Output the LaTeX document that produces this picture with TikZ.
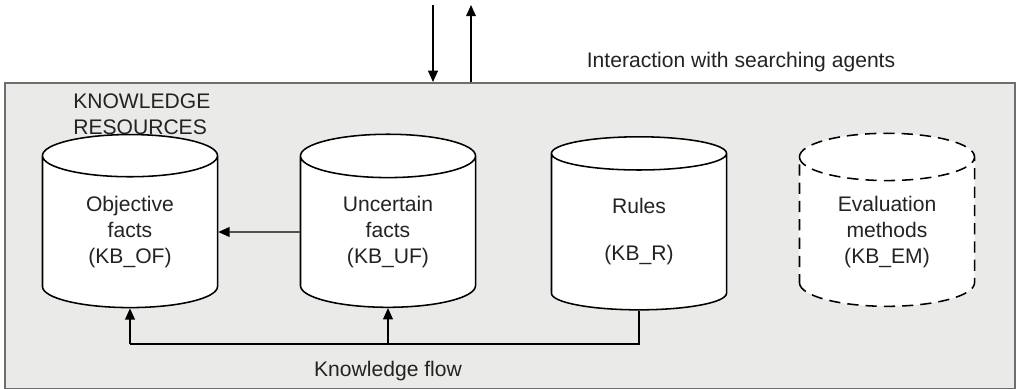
\documentclass[tikz,border=0pt]{standalone}
\usepackage{fontspec}
\setmainfont{Liberation Sans}
\usetikzlibrary{arrows.meta,positioning,shapes.geometric}

\definecolor{boxgray}{RGB}{234,235,232}
\definecolor{edgegray}{RGB}{110,110,110}
\definecolor{inkgray}{RGB}{35,35,35}

\tikzset{
  kbase/.style={cylinder, shape border rotate=90, draw=black, line width=1.1pt,
    fill=white, minimum width=4.375cm, minimum height=4.325cm, aspect=0.48,
    align=center, inner sep=0pt, text=inkgray},
  planned/.style={kbase, dash pattern=on 8pt off 5pt},
  kbox/.style={draw=edgegray, line width=1.4pt, fill=boxgray, minimum width=25.25cm,
    minimum height=7.65cm, inner sep=0pt},
  flow/.style={line width=0.9pt, -{Triangle[width=7pt,length=8pt]}},
  label/.style={text=inkgray, inner sep=0pt}
}

\begin{document}
\begin{tikzpicture}[x=0.025cm, y=-0.025cm,
    font=\fontsize{15}{18.4}\selectfont]
    \useasboundingbox (0,0) rectangle (1017,388);

    % knowledge base frame
    \node[kbox] (kb) at (510,236) {};
    \node[label, align=left, anchor=west] (res) at (73,114) {KNOWLEDGE\\RESOURCES};

    % interaction with the agents
    \coordinate (agentin) at (433,5);
    \coordinate (agentout) at (471,5);
    \draw[flow] (agentin) -- (agentin |- kb.north);
    \draw[flow] (agentout |- kb.north) -- (agentout);
    \node[label] (agents) at (741,62) {Interaction with searching agents};

    % the four bases
    \node[kbase] (of) at (130,232) {Objective\\facts\\(KB\_OF)};
    \node[kbase] (uf) at (388,232) {Uncertain\\facts\\(KB\_UF)};
    \node[kbase] (r) at (639,232) {\\[-8pt]Rules\\[15pt](KB\_R)};
    \node[planned] (em) at (887,232) {Evaluation\\methods\\(KB\_EM)};

    \draw[flow] (uf.west) -- (of.east);

    % knowledge flow
    \coordinate (flowline) at (0,344);
    \draw[line width=0.9pt] (r.bottom) -- (r.bottom |- flowline) -- (of.bottom |- flowline);
    \draw[flow] (of.bottom |- flowline) -- (of.bottom);
    \draw[flow] (uf.bottom |- flowline) -- (uf.bottom);
    \node[label, below=12pt of uf.bottom |- flowline] (kflow) {Knowledge flow};
\end{tikzpicture}
\end{document}
